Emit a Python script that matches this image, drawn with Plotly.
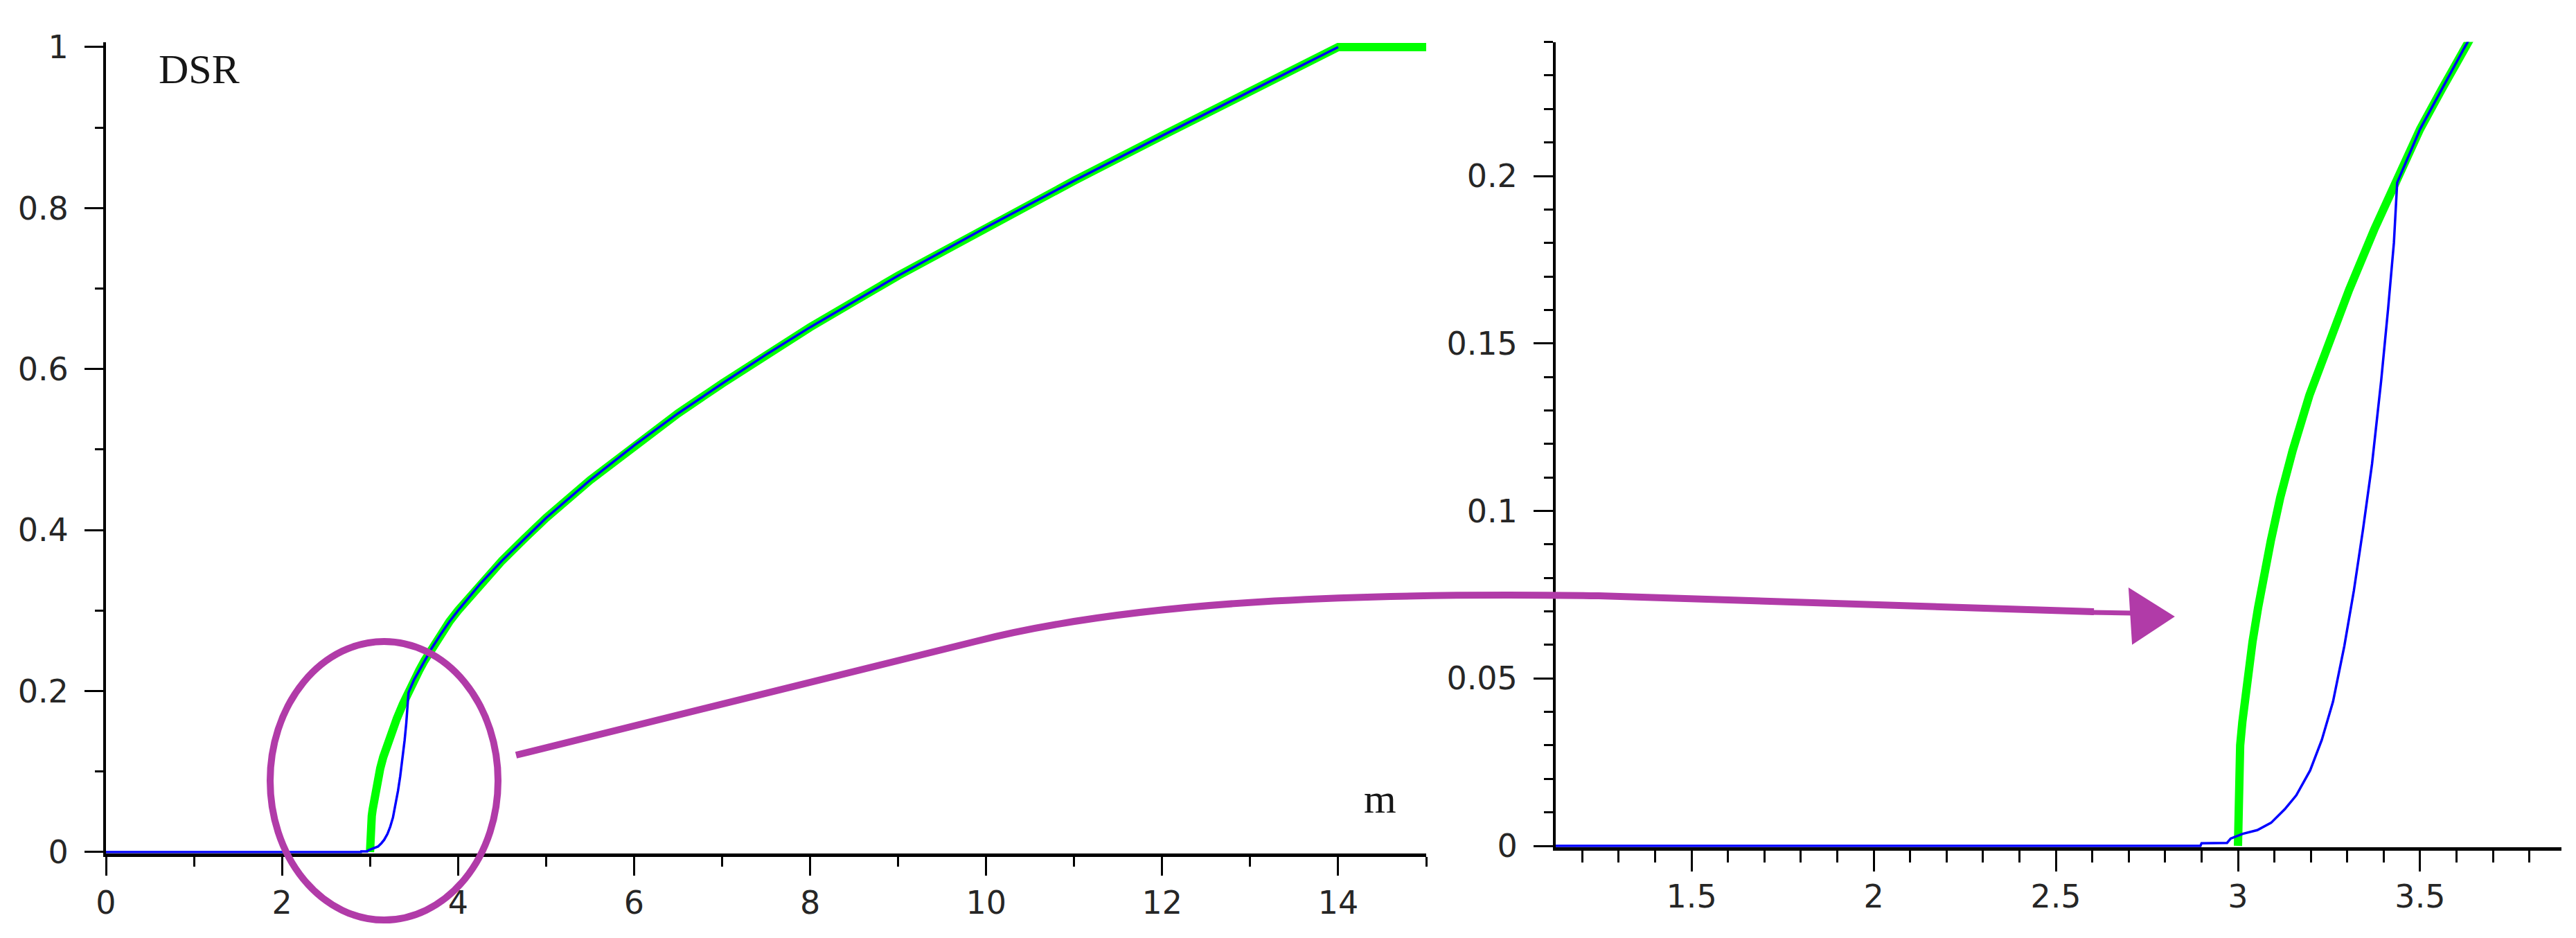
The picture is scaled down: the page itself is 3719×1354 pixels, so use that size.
import plotly.graph_objects as go

# ---------------- data ----------------
m_green = [3.0, 3.002, 3.006, 3.012, 3.02, 3.03, 3.04, 3.055, 3.07, 3.09, 3.116, 3.15, 3.196,
           3.25, 3.305, 3.374, 3.431, 3.5, 3.56, 3.62, 3.7, 3.8, 3.9, 4.0, 4.25, 4.5, 4.75,
           5.0, 5.5, 6.0, 6.5, 7.0, 7.5, 8.0, 9.0, 10.0, 11.0, 12.0, 13.0, 14.0, 15.0]
dsr_green = [0.0, 0.025, 0.030, 0.037, 0.045, 0.053, 0.061, 0.071, 0.080, 0.091, 0.104, 0.118,
             0.1345, 0.150, 0.166, 0.184, 0.198, 0.214, 0.226, 0.238, 0.253, 0.270, 0.286, 0.300,
             0.333, 0.362, 0.389, 0.415, 0.462, 0.505, 0.545, 0.582, 0.618, 0.652, 0.716, 0.776,
             0.834, 0.890, 0.945, 1.0, 1.0]

m_blue_rise = [0.0, 2.897, 2.90, 2.97, 2.98, 3.013, 3.053, 3.091, 3.129, 3.16, 3.198, 3.23,
               3.261, 3.292, 3.318, 3.343, 3.368, 3.393, 3.412, 3.428, 3.437]
dsr_blue_rise = [0.0, 0.0, 0.0008, 0.0009, 0.0022, 0.0036, 0.0047, 0.0069, 0.011, 0.0151, 0.0225,
                 0.0316, 0.0431, 0.0597, 0.0761, 0.0943, 0.114, 0.1388, 0.1602, 0.18, 0.198]
# after m ~ 3.44 the blue curve runs on the green one until m = 14
m_blue = m_blue_rise + [m for m in m_green if 3.44 < m <= 14.0]
dsr_blue = dsr_blue_rise + [d for m, d in zip(m_green, dsr_green) if 3.44 < m <= 14.0]

y_label = "DSR"
x_label = "m"

# ---------------- layout constants (pixels) ----------------
W, H = 3719, 1354
def fx(p):
    return p / W
def fy(p):
    return 1 - p / H

MAG = "#b13ba8"
GREEN = "#00ff00"
BLUE = "#0000ff"
TICKFONT = dict(family="DejaVu Sans, Verdana, sans-serif", size=46, color="#262626")
SERIF = "Liberation Serif, Times New Roman, serif"

fig = go.Figure()
for xa, ya in (("x", "y"), ("x2", "y2")):
    fig.add_trace(go.Scatter(x=m_green, y=dsr_green, mode="lines", xaxis=xa, yaxis=ya,
                             line=dict(color=GREEN, width=12), showlegend=False, hoverinfo="skip"))
    fig.add_trace(go.Scatter(x=m_blue, y=dsr_blue, mode="lines", xaxis=xa, yaxis=ya,
                             line=dict(color=BLUE, width=3.5), showlegend=False, hoverinfo="skip"))

# left panel: y=0 at 1222 px, y=1 at 60 px ; x=0 at 145 px, x=15 at 2051 px
ly_per = 1222 - 60
ly_lo, ly_hi = -0.0015, 1.006
l_bottom = 1222 - ly_lo * ly_per
l_top = 1222 - ly_hi * ly_per
# right panel: y=0 at 1213 px, 0.2 at 246 px ; x 1.127 at 2238 px, 3.888 at 3690 px
ry_per = (1213 - 246) / 0.2
ry_lo, ry_hi = -0.0004, 0.24
r_bottom = 1213 - ry_lo * ry_per
r_top = 1213 - ry_hi * ry_per

common_axis = dict(showgrid=False, zeroline=False, showline=True, linecolor="black",
                   ticks="outside", tickcolor="black", tickwidth=3, tickfont=TICKFONT,
                   layer="below traces", automargin=False, fixedrange=True)

fig.update_layout(
    width=W, height=H,
    margin=dict(l=0, r=0, t=0, b=0),
    paper_bgcolor="white", plot_bgcolor="white",
    xaxis=dict(domain=[fx(145), fx(2051)], range=[0, 15], anchor="y",
               tick0=0, dtick=2, ticklen=27, linewidth=5, ticklabelstandoff=0,
               minor=dict(dtick=1, ticklen=14, tickwidth=3, tickcolor="black", ticks="outside", showgrid=False),
               **common_axis),
    yaxis=dict(domain=[fy(l_bottom), fy(l_top)], range=[ly_lo, ly_hi], anchor="x",
               tick0=0, dtick=0.2, ticklen=27, linewidth=4, ticklabelstandoff=14,
               minor=dict(dtick=0.1, ticklen=12, tickwidth=3, tickcolor="black", ticks="outside", showgrid=False),
               **common_axis),
    xaxis2=dict(domain=[fx(2238), fx(3690)], range=[1.127, 3.888], anchor="y2",
                tick0=0, dtick=0.5, ticklen=30, linewidth=5, ticklabelstandoff=-3,
                minor=dict(dtick=0.1, ticklen=17, tickwidth=3, tickcolor="black", ticks="outside", showgrid=False),
                **common_axis),
    yaxis2=dict(domain=[fy(r_bottom), fy(r_top)], range=[ry_lo, ry_hi], anchor="x2",
                tick0=0, dtick=0.05, ticklen=28, linewidth=4, ticklabelstandoff=14,
                minor=dict(dtick=0.01, ticklen=13, tickwidth=3, tickcolor="black", ticks="outside", showgrid=False),
                **common_axis),
)

# axis titles as in-plot text
fig.add_annotation(text=y_label, xref="paper", yref="paper", x=fx(279), y=fy(92),
                   showarrow=False, xanchor="center", yanchor="middle",
                   font=dict(family=SERIF, size=60, color="#161616"))
fig.add_annotation(text=x_label, xref="paper", yref="paper", x=fx(1984), y=fy(1145),
                   showarrow=False, xanchor="center", yanchor="middle",
                   font=dict(family=SERIF, size=60, color="#161616"))

# magenta ellipse around the zoomed region
fig.add_shape(type="circle", xref="paper", yref="paper",
              x0=fx(382), x1=fx(711), y0=fy(1320), y1=fy(918),
              line=dict(color=MAG, width=10), layer="above")

# magenta curved arrow towards the zoomed panel
def P(a, b):
    return f"{fx(a):.6f},{fy(b):.6f}"
path = (f"M {P(737, 1082)} L {P(1400, 918)} "
        f"C {P(1650, 854)} {P(2000, 848)} {P(2300, 852)} L {P(3015, 875)}")
fig.add_shape(type="path", xref="paper", yref="paper", path=path,
              line=dict(color=MAG, width=10), layer="above")
fig.add_shape(type="path", xref="paper", yref="paper",
              path=f"M {P(3010, 876)} L {P(3070, 877)}",
              line=dict(color=MAG, width=7), layer="above")
head = f"M {P(3066, 842)} L {P(3071, 921)} L {P(3130, 882)} Z"
fig.add_shape(type="path", xref="paper", yref="paper", path=head,
              line=dict(color=MAG, width=2), fillcolor=MAG, layer="above")

fig.write_html("out.html")
